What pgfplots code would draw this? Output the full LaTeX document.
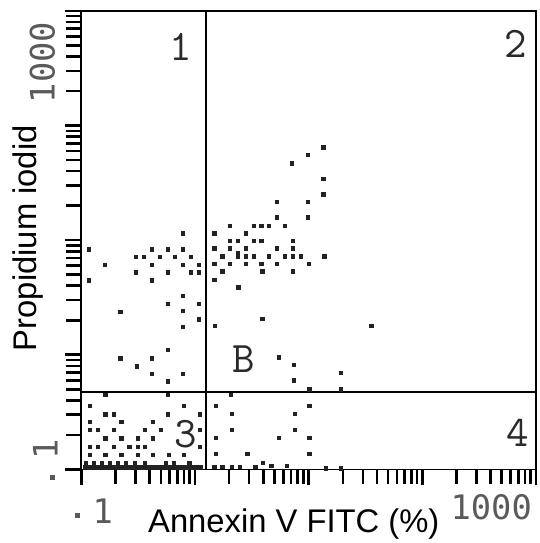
\documentclass[border=0pt]{standalone}
\usepackage{pgfplots}
\pgfplotsset{compat=1.18}
\usepackage{fontspec}
\setmainfont{Liberation Sans}
\newfontfamily\tickfont{DejaVu Sans Mono}
\definecolor{dotc}{HTML}{222222}
\definecolor{tickc}{HTML}{5A5A5A}
\definecolor{quadc}{HTML}{2A2A2A}
\pgfplotsset{
  every tick/.style={black, line width=2.6pt},
  every minor tick/.style={black, line width=2.6pt},
  every major tick/.style={black, line width=4pt},
}
\begin{document}
\begin{tikzpicture}
\begin{axis}[
  scale only axis, width=458pt, height=462pt,
  xmin=0, xmax=4, ymin=0, ymax=4,
  axis line style={line width=1.8pt},
  xtick={0,1,2,3,4}, ytick={0,1,2,3,4},
  xticklabels={,,,,}, yticklabels={,,,,},
  minor xtick={0.301,0.477,0.602,0.699,0.778,0.845,0.903,0.954,1.301,1.477,1.602,1.699,1.778,1.845,1.903,1.954,2.301,2.477,2.602,2.699,2.778,2.845,2.903,2.954,3.301,3.477,3.602,3.699,3.778,3.845,3.903,3.954},
  minor ytick={0.301,0.477,0.602,0.699,0.778,0.845,0.903,0.954,1.301,1.477,1.602,1.699,1.778,1.845,1.903,1.954,2.301,2.477,2.602,2.699,2.778,2.845,2.903,2.954,3.301,3.477,3.602,3.699,3.778,3.845,3.903,3.954},
  xtick pos=left, ytick pos=left,
  tick align=outside,
  major tick length=16pt, minor tick length=15pt,
  xtick style={line width=2.6pt}, ytick style={line width=2.6pt},
  clip=false,
]
% quadrant dividers
\addplot[black, line width=1.8pt] coordinates {(1.094,0) (1.094,4)};
\addplot[black, line width=1.8pt] coordinates {(0,0.675) (4,0.675)};
% events
\addplot[only marks, mark=square*, mark size=1.7pt, color=dotc] coordinates {
% quadrant 1 (upper left)
(0.893,2.061) (0.064,1.922) (0.617,1.922) (0.757,1.922) (0.893,1.922)
(0.480,1.853) (0.548,1.853) (0.690,1.853) (0.824,1.853) (0.961,1.853)
(0.203,1.786) (0.617,1.786) (0.893,1.786) (1.033,1.786)
(0.480,1.720) (0.757,1.720) (0.961,1.720) (1.033,1.720)
(0.064,1.651) (0.617,1.651) (0.893,1.518) (0.757,1.448) (1.033,1.448)
(0.343,1.374) (0.893,1.383) (1.033,1.310) (0.893,1.244) (0.757,1.042)
(0.343,0.970) (0.620,0.970) (0.486,0.900) (0.620,0.834) (0.893,0.834) (0.757,0.768)
% quadrant 2 (upper right)
(2.128,2.811) (1.991,2.745) (1.852,2.673) (2.128,2.537) (2.128,2.401)
(1.721,2.335) (1.991,2.335) (1.721,2.199) (1.991,2.199)
(1.307,2.127) (1.517,2.127) (1.583,2.127) (1.651,2.127) (1.788,2.127)
(1.168,2.061) (1.444,2.061)
(1.307,1.997) (1.374,1.997) (1.517,1.997) (1.583,1.997) (1.860,1.997)
(1.168,1.931) (1.307,1.931) (1.444,1.931) (1.721,1.931) (1.860,1.931)
(1.240,1.859) (1.374,1.887) (1.374,1.859) (1.444,1.859) (1.517,1.859)
(1.651,1.859) (1.788,1.859) (1.860,1.859) (1.928,1.859) (2.137,1.859)
(1.168,1.792) (1.307,1.792) (1.444,1.792) (1.583,1.792) (1.721,1.792) (2.000,1.792)
(1.240,1.729) (1.590,1.729) (1.860,1.729) (1.168,1.656) (1.380,1.590)
(1.592,1.316) (1.176,1.253) (2.550,1.253) (1.735,0.978) (1.869,0.912)
(2.282,0.842) (1.869,0.777) (2.006,0.699) (2.282,0.699)
% quadrant 3 (lower left)
(0.210,0.650) (0.762,0.650) (0.072,0.554) (0.902,0.554)
(0.210,0.482) (0.286,0.482) (0.762,0.482) (1.039,0.482)
(0.072,0.416) (0.349,0.416) (0.626,0.416)
(0.072,0.344) (0.146,0.344) (0.286,0.344) (0.559,0.344) (0.699,0.344) (1.039,0.344)
(0.210,0.271) (0.349,0.271) (0.495,0.271) (0.626,0.271)
(0.072,0.199) (0.146,0.199) (0.286,0.199) (0.422,0.199) (0.495,0.199) (0.559,0.199) (1.039,0.199)
(0.072,0.127) (0.210,0.127) (0.349,0.127) (0.495,0.127) (0.626,0.127) (0.771,0.127) (0.902,0.127)
(0.030,0.020) (0.060,0.020) (0.090,0.020) (0.120,0.020) (0.150,0.020) (0.180,0.020)
(0.210,0.020) (0.240,0.020) (0.270,0.020) (0.300,0.020) (0.330,0.020) (0.360,0.020)
(0.390,0.020) (0.420,0.020) (0.450,0.020) (0.480,0.020) (0.510,0.020) (0.540,0.020)
(0.570,0.020) (0.600,0.020) (0.630,0.020) (0.660,0.020) (0.690,0.020) (0.720,0.020)
(0.750,0.020) (0.780,0.020) (0.810,0.020) (0.840,0.020) (0.870,0.020) (0.900,0.020)
(0.930,0.020) (0.960,0.020) (0.990,0.020) (1.020,0.020) (1.050,0.020)
(0.040,0.055) (0.110,0.055) (0.180,0.055) (0.250,0.055) (0.320,0.055) (0.390,0.055)
(0.470,0.055) (0.560,0.055) (0.740,0.055) (0.810,0.055) (0.950,0.055)
% quadrant 4 (lower right)
(1.316,0.650) (1.181,0.554) (2.006,0.554) (1.321,0.487) (1.875,0.487)
(1.321,0.349) (1.875,0.349) (1.181,0.277) (1.738,0.277) (2.006,0.277)
(1.181,0.136) (1.459,0.136) (2.006,0.136)
(1.168,0.026) (1.240,0.026) (1.321,0.026) (1.395,0.026) (1.531,0.026)
(1.598,0.061) (1.671,0.035) (1.808,0.035) (2.148,0.012) (2.282,0.012)
};
\end{axis}
% axis titles
\node[font=\fontsize{33}{36}\selectfont, anchor=base] at (214pt,-64pt) {Annexin V FITC (\%)};
\node[font=\fontsize{33}{36}\selectfont, rotate=90, anchor=base] at (-45pt,233pt) {Propidium iodid};
% tick labels
\node[font=\tickfont\fontsize{34}{36}\selectfont, text=tickc, anchor=base] at (21.5pt,-55pt) {1};
\node[font=\tickfont\fontsize{34}{36}\selectfont, text=tickc, anchor=base] at (413pt,-50pt) {1000};
\node[font=\tickfont\fontsize{34}{36}\selectfont, text=tickc, rotate=90, anchor=base] at (-24pt,20pt) {1};
\node[font=\tickfont\fontsize{34}{36}\selectfont, text=tickc, rotate=90, anchor=base] at (-27pt,410pt) {1000};
\node[inner sep=0pt, text=tickc] at (-4pt,-46pt) {\rule{5pt}{5pt}};
\node[inner sep=0pt, text=tickc] at (-29pt,-8pt) {\rule{5pt}{5pt}};
% quadrant labels
\node[font=\ttfamily\fontsize{44}{46}\selectfont, text=quadc, inner sep=0pt] at (100pt,426pt) {1};
\node[font=\ttfamily\fontsize{44}{46}\selectfont, text=quadc, inner sep=0pt] at (438pt,429pt) {2};
\node[font=\ttfamily\fontsize{44}{46}\selectfont, text=quadc, inner sep=0pt] at (105pt,36pt) {3};
\node[font=\ttfamily\fontsize{44}{46}\selectfont, text=quadc, inner sep=0pt] at (440pt,37pt) {4};
\node[font=\ttfamily\fontsize{44}{46}\selectfont, text=quadc, inner sep=0pt] at (164pt,111pt) {B};
\useasboundingbox (-82pt,-70pt) rectangle (459pt,473pt);
\end{tikzpicture}
\end{document}
